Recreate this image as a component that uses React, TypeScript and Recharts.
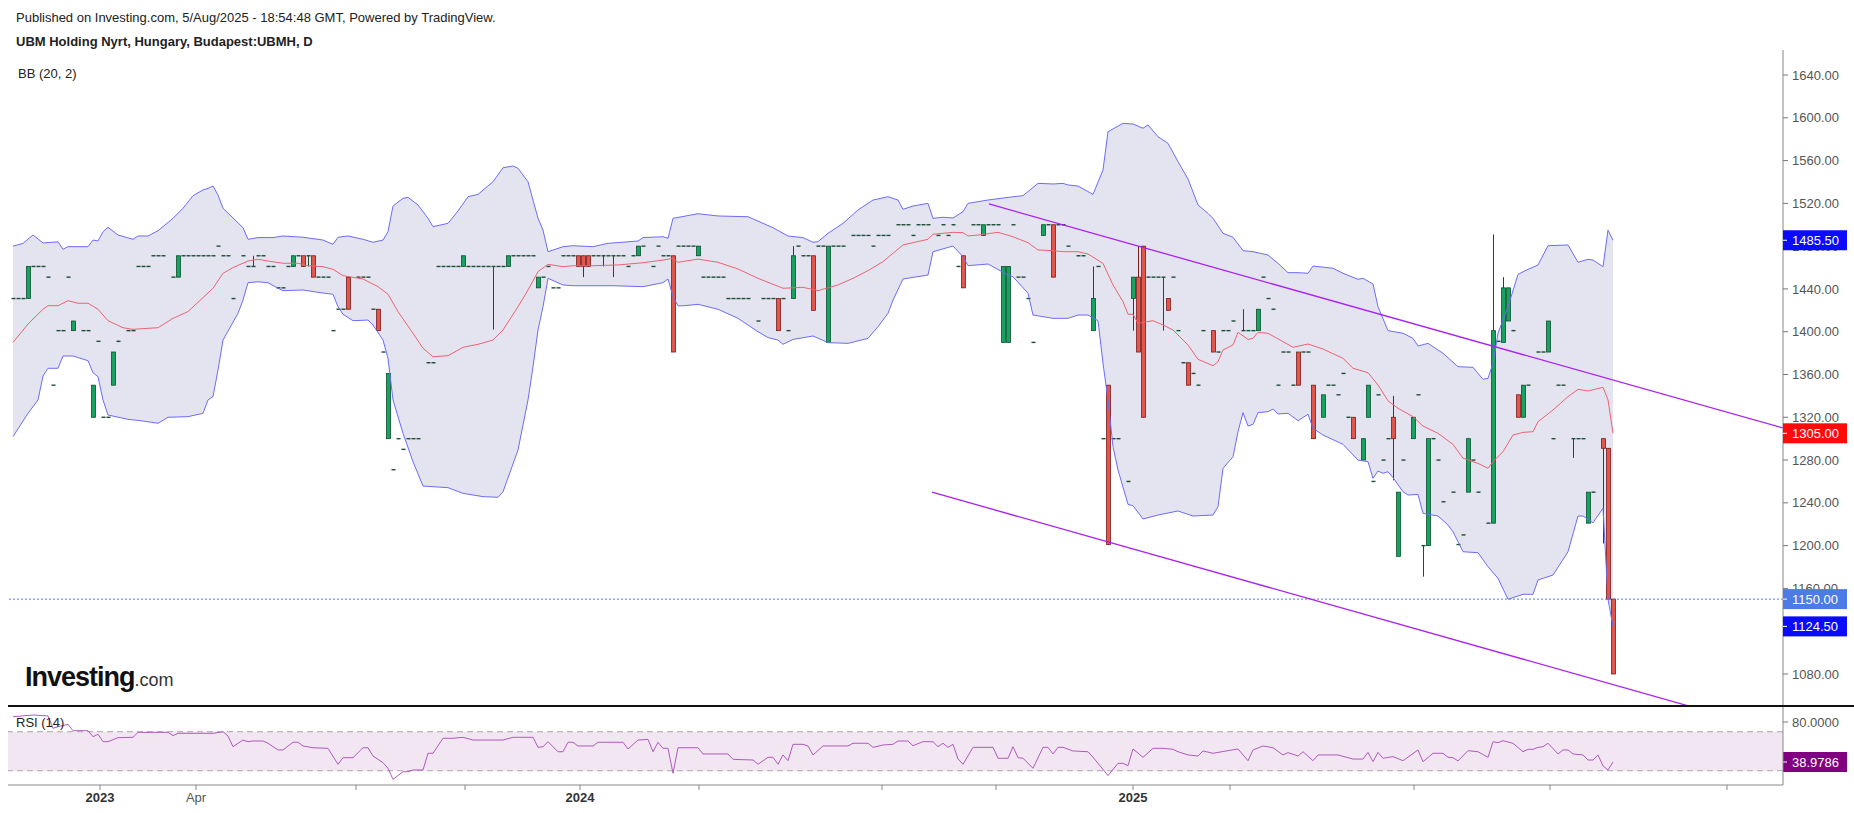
import { ComposedChart, Line, Area, Bar, XAxis, YAxis, ReferenceLine, ReferenceArea } from "recharts"

// bar index t: one slot per traded session shown on the chart
const upperBand: [number, number][] = [
  [1, 1480], [3, 1482.6], [5, 1490.4], [7, 1483], [10, 1484], [11, 1477], [12, 1479.5], [16, 1479.5], [17, 1485.7], [18, 1484.8],
  [19, 1493.5], [20, 1497.6], [22, 1490.4], [25, 1486.4], [26, 1489.5], [28, 1489.5], [30, 1494.4], [33, 1506], [35, 1515.4], [37, 1527.2],
  [39, 1532.5], [40, 1534], [41, 1536.2], [42, 1527.8], [43, 1515.4], [47, 1497.2], [48, 1486.4], [50, 1488], [53, 1488], [55, 1489.5],
  [59, 1488.3], [63, 1485.7], [65, 1481.7], [66, 1488.3], [68, 1489.5], [71, 1486.4], [73, 1483.6], [75, 1485.7], [76, 1493.5], [77, 1517.5],
  [79, 1524.7], [80, 1525.6], [82, 1518.5], [84, 1506], [85, 1498.2], [88, 1501.3], [90, 1512.9], [92, 1526.2], [94, 1528.4], [97, 1540.2],
  [99, 1553.3], [101, 1554.9], [102, 1552.8], [104, 1540.2], [105, 1523.1], [106, 1506], [107, 1495], [108, 1474.8], [111, 1479.5], [113, 1480.4],
  [117, 1479.5], [120, 1482.6], [126, 1484.8], [127, 1488], [131, 1488.8], [132, 1487.3], [133, 1506], [138, 1510.3], [142, 1508.2], [148, 1507.5],
  [153, 1497.2], [156, 1489.5], [159, 1488], [161, 1483.6], [162, 1484.2], [164, 1492], [167, 1501.3], [170, 1513.8], [173, 1523.1], [176, 1526.2],
  [178, 1523.1], [179, 1514.4], [181, 1517.5], [184, 1520], [185, 1506], [187, 1507], [189, 1506.3], [191, 1512.2], [192, 1520], [196, 1523.1],
  [200, 1525.6], [203, 1527.2], [204, 1531], [206, 1538.7], [209, 1538.1], [211, 1538.7], [212, 1537.2], [214, 1536.2], [217, 1528.4], [219, 1551.2],
  [220, 1587], [223, 1594.8], [225, 1594.2], [227, 1590.2], [228, 1593.3], [230, 1582.3], [232, 1576.1], [234, 1559], [236, 1542.8], [238, 1518.5],
  [240, 1510.7], [241, 1506], [243, 1492], [245, 1488.3], [247, 1475.8], [249, 1474.8], [252, 1471.7], [254, 1463.9], [256, 1455.2], [258, 1455.2],
  [260, 1454.6], [261, 1461.4], [265, 1459.3], [267, 1454.6], [270, 1449], [271, 1449.9], [273, 1444.6], [274, 1423.4], [276, 1401], [279, 1398.5],
  [281, 1393.8], [282, 1386.6], [284, 1389.1], [287, 1379.8], [290, 1367.3], [293, 1366.7], [295, 1355.5], [296, 1356.4], [297, 1370.5], [298, 1398.5],
  [300, 1423.4], [302, 1453.6], [304, 1458.3], [306, 1462.4], [308, 1480.4], [312, 1481.1], [314, 1464.9], [316, 1467.7], [317, 1467], [319, 1460.8],
  [320, 1495], [321, 1485.5],
]

const middleBand: [number, number][] = [
  [1, 1390], [4, 1407.2], [7, 1421], [8, 1424.3], [10, 1424.3], [12, 1429], [14, 1426.6], [16, 1426.6], [18, 1421], [20, 1410.3],
  [23, 1403.7], [25, 1402.2], [28, 1403.2], [30, 1403.7], [33, 1412.5], [36, 1418.8], [38, 1427.5], [41, 1440.6], [43, 1454.6], [45, 1459.9],
  [48, 1466.1], [50, 1467.7], [52, 1466.1], [55, 1464], [58, 1464], [60, 1461.7], [63, 1460.8], [65, 1458.3], [67, 1452.4], [71, 1449.3],
  [74, 1442.1], [76, 1435], [78, 1418.8], [81, 1398.5], [83, 1384.5], [85, 1376.6], [88, 1377.6], [91, 1385.4], [94, 1388.2], [97, 1392.2],
  [99, 1401.6], [102, 1423.4], [104, 1439], [106, 1456.1], [108, 1463], [111, 1460.8], [113, 1461.7], [117, 1461.7], [122, 1462.4], [127, 1464.5],
  [131, 1467], [133, 1468.6], [134, 1464.9], [138, 1467.9], [142, 1464.9], [146, 1458.6], [150, 1449.9], [155, 1440.6], [159, 1441.5], [162, 1438.4],
  [166, 1443.7], [169, 1449.9], [172, 1457.1], [175, 1465.5], [179, 1481.1], [184, 1486.4], [185, 1491.1], [189, 1492.9], [191, 1492.6], [192, 1489.5],
  [194, 1490.4], [198, 1492.9], [201, 1488.8], [204, 1483.2], [206, 1476.4], [209, 1475.8], [211, 1474.8], [214, 1474.8], [216, 1472.6], [219, 1463.9],
  [221, 1443.7], [223, 1428.1], [224, 1416.3], [225, 1416.3], [226, 1407.9], [229, 1410.3], [231, 1406.3], [233, 1401.6], [236, 1387.6], [238, 1374.2],
  [241, 1368.2], [242, 1372], [243, 1382.9], [245, 1387.6], [246, 1399.4], [248, 1392.8], [249, 1393.8], [250, 1399.4], [252, 1398.5], [255, 1390.7],
  [257, 1385.4], [260, 1388.5], [263, 1383.8], [267, 1375.1], [269, 1365.8], [272, 1361.7], [274, 1350.2], [276, 1335.4], [278, 1328.4], [281, 1320.6],
  [283, 1311.8], [286, 1305], [289, 1294.7], [291, 1281.7], [294, 1276.9], [296, 1272.3], [297, 1278.5], [299, 1287.8], [301, 1303.4], [303, 1305.9],
  [305, 1306.5], [306, 1315.9], [309, 1326.8], [312, 1339.3], [314, 1346.1], [316, 1344.6], [319, 1348], [320, 1336.2], [321, 1305],
]

const lowerBand: [number, number][] = [
  [1, 1301.9], [4, 1323.7], [6, 1336.2], [7, 1358.6], [8, 1365.8], [10, 1365.8], [11, 1377.3], [13, 1377.3], [16, 1372.9], [17, 1361.7],
  [18, 1357.9], [19, 1336.2], [20, 1322.1], [24, 1318.1], [27, 1316.5], [30, 1314.4], [32, 1320], [36, 1320.6], [39, 1323.7], [40, 1336.2],
  [41, 1339.3], [42, 1364.2], [43, 1392.2], [46, 1417.2], [47, 1429.6], [48, 1445.8], [50, 1446.7], [52, 1445.8], [54, 1440.6], [55, 1438.4],
  [59, 1439], [62, 1436.8], [65, 1435], [66, 1423.4], [67, 1416.3], [69, 1410.3], [72, 1410.9], [73, 1406.3], [75, 1392.2], [76, 1375.1],
  [77, 1336.2], [79, 1305], [81, 1278.5], [83, 1255.7], [88, 1254.2], [91, 1248.9], [95, 1245.8], [98, 1245.2], [99, 1250.4], [102, 1289.4],
  [104, 1336.2], [105, 1367.3], [106, 1401.6], [107, 1423.4], [108, 1449.9], [111, 1443.7], [113, 1443], [121, 1443], [127, 1442.1], [131, 1445.8],
  [132, 1449.3], [133, 1432.8], [134, 1424.2], [135, 1424.2], [138, 1425.6], [142, 1421], [146, 1412.5], [150, 1400], [152, 1394.5], [154, 1392.2],
  [155, 1388.2], [157, 1392.8], [161, 1396], [164, 1389.8], [168, 1389.1], [172, 1393.8], [174, 1404.7], [176, 1417.2], [177, 1429.6], [179, 1449.3],
  [184, 1453], [185, 1474.8], [189, 1480.1], [191, 1470.1], [192, 1461.7], [196, 1463.3], [200, 1453], [201, 1451.4], [204, 1435.9], [205, 1415.6],
  [209, 1412.5], [212, 1412.5], [214, 1415.6], [216, 1415.6], [218, 1410.3], [219, 1370.5], [220, 1336.2], [221, 1292.5], [222, 1270.7], [224, 1238.6],
  [225, 1237.3], [227, 1224.9], [230, 1228.6], [234, 1232.4], [237, 1227.7], [241, 1228.6], [242, 1236.4], [243, 1272.3], [245, 1283.1], [246, 1306.5],
  [247, 1324.3], [248, 1311.8], [249, 1313.4], [250, 1324.3], [252, 1325.3], [253, 1327.7], [254, 1323.1], [256, 1323.7], [258, 1316.8], [260, 1322.8],
  [261, 1309.7], [263, 1303.4], [267, 1294.7], [270, 1280], [272, 1278.5], [273, 1262.9], [274, 1269.8], [275, 1267.6], [276, 1269.1], [277, 1263.6],
  [279, 1250.4], [280, 1247.3], [282, 1247.9], [283, 1230.2], [286, 1227.7], [288, 1219.3], [289, 1213], [291, 1194.3], [294, 1193.4], [296, 1180.3],
  [298, 1169.4], [300, 1149.9], [303, 1154.5], [305, 1154.5], [306, 1167.9], [309, 1172.5], [312, 1194.3], [314, 1227.7], [315, 1227.7], [317, 1221.4],
  [319, 1234.9], [320, 1149.9], [321, 1124.5],
]

const rsiValues: [number, number][] = [
  [1, 85.4], [5, 87.2], [8, 86.2], [9, 73.5], [10, 75.2], [12, 77.6], [13, 71.1], [16, 71.1], [17, 64.9], [18, 67.4],
  [19, 59.8], [20, 59.8], [22, 63.9], [25, 64.3], [26, 69.4], [32, 69.4], [33, 66], [34, 68.4], [41, 68.4], [43, 70],
  [44, 65.6], [45, 54.7], [47, 61.5], [48, 59.8], [49, 60.5], [51, 60.5], [52, 58.2], [54, 51.3], [55, 51.3], [57, 59.2],
  [58, 59.2], [59, 55.4], [61, 53.6], [64, 53], [66, 36.6], [67, 43.4], [69, 43.4], [71, 53.6], [72, 53.6], [73, 45.1],
  [75, 38.3], [76, 32.5], [77, 21.2], [79, 29], [80, 29], [81, 30.8], [83, 30.8], [84, 47.9], [85, 47.9], [87, 63.3],
  [89, 63.3], [91, 64.3], [93, 61.5], [99, 61.5], [101, 64.3], [105, 64.3], [106, 54], [107, 54.7], [108, 59.8], [110, 49.5],
  [111, 49.5], [112, 59.2], [113, 59.2], [114, 55.4], [117, 55.4], [118, 59.2], [123, 59.2], [124, 52.3], [126, 61.5], [128, 62.2],
  [129, 49.5], [130, 59.2], [131, 53], [132, 53], [133, 27.4], [134, 53.6], [138, 53.6], [139, 47.2], [144, 47.2], [145, 41.7],
  [149, 41], [150, 36.6], [152, 43.8], [153, 43.8], [154, 36.6], [155, 46.2], [156, 40.3], [157, 57.1], [159, 57.1], [160, 55.4],
  [161, 46.2], [163, 55.4], [168, 55.4], [169, 58.2], [172, 58.2], [173, 54], [175, 56.4], [177, 57.1], [178, 60.5], [180, 60.5],
  [181, 55.7], [183, 59.8], [185, 59.8], [186, 54.7], [187, 58.2], [188, 54], [189, 57.1], [190, 42], [191, 36.6], [193, 54],
  [197, 54], [198, 42.8], [200, 42.8], [201, 54.7], [202, 43.4], [203, 42.8], [205, 32.5], [207, 54], [208, 54], [209, 47.2],
  [210, 54], [211, 54], [213, 50.3], [216, 49.5], [217, 43.8], [219, 31.5], [220, 25], [222, 37.6], [223, 37.6], [224, 35.2],
  [225, 52.3], [227, 43.8], [229, 53], [231, 53], [233, 52], [234, 49.5], [236, 46.2], [238, 45.1], [239, 50.3], [241, 47.9],
  [244, 50.6], [246, 52.3], [248, 40.3], [249, 51.3], [251, 55.4], [253, 53.6], [255, 46.2], [256, 48.6], [258, 45.1], [259, 49.5],
  [261, 40.3], [262, 46.2], [266, 46.2], [269, 42], [271, 42], [272, 48.9], [273, 39.3], [274, 48.9], [275, 42.8], [277, 44.5],
  [279, 40.3], [282, 51.3], [283, 39.3], [285, 47.9], [287, 47.9], [288, 43.8], [289, 43.4], [290, 40], [292, 50.6], [294, 49.5],
  [296, 43.8], [297, 59.8], [298, 58.8], [299, 60.8], [301, 58.2], [303, 49.5], [304, 52], [305, 52], [306, 54], [307, 54.7],
  [308, 58.2], [310, 47.2], [311, 51.3], [312, 51.3], [313, 47.2], [315, 46.2], [316, 41], [317, 41], [318, 46.2], [319, 34.9],
  [320, 30.8], [321, 38.9786],
]

// [t, open, high, low, close]
const candles: [number, number, number, number, number][] = [
  [4, 1431, 1461, 1431, 1461], [13, 1401, 1410, 1401, 1410], [17, 1320, 1350, 1320, 1350], [21, 1350, 1381, 1350, 1381],
  [34, 1451, 1471, 1451, 1471], [49, 1461, 1471, 1461, 1461], [57, 1461, 1471, 1461, 1471], [59, 1471, 1471, 1461, 1461],
  [60, 1471, 1471, 1461, 1471], [61, 1471, 1471, 1451, 1451], [68, 1451, 1451, 1421, 1421], [74, 1421, 1421, 1401, 1401],
  [76, 1300, 1361, 1300, 1361], [91, 1461, 1471, 1461, 1471], [97, 1461, 1461, 1402, 1461], [100, 1461, 1471, 1461, 1471],
  [106, 1441, 1451, 1441, 1451], [114, 1471, 1471, 1461, 1461], [115, 1471, 1471, 1451, 1461], [116, 1471, 1471, 1461, 1461],
  [119, 1471, 1471, 1461, 1471], [121, 1471, 1471, 1451, 1471], [126, 1471, 1480, 1471, 1480], [133, 1471, 1471, 1381, 1381],
  [138, 1471, 1480, 1471, 1480], [154, 1431, 1431, 1401, 1401], [157, 1431, 1480, 1431, 1471], [161, 1471, 1471, 1420, 1420],
  [164, 1390, 1480, 1390, 1480], [191, 1471, 1471, 1441, 1441], [195, 1490, 1500, 1490, 1500], [199, 1390, 1461, 1390, 1461],
  [200, 1390, 1461, 1390, 1461], [207, 1490, 1500, 1490, 1500], [209, 1500, 1500, 1451, 1451], [217, 1401, 1461, 1401, 1431],
  [220, 1350, 1350, 1201, 1201], [225, 1431, 1451, 1401, 1451], [226, 1451, 1480, 1381, 1381], [227, 1480, 1480, 1320, 1320],
  [231, 1451, 1451, 1401, 1451], [232, 1431, 1431, 1420, 1420], [236, 1371, 1371, 1350, 1350], [241, 1401, 1401, 1381, 1381],
  [247, 1401, 1421, 1401, 1401], [250, 1401, 1421, 1401, 1421], [258, 1381, 1381, 1350, 1350], [261, 1350, 1350, 1300, 1300],
  [263, 1320, 1341, 1320, 1341], [269, 1320, 1320, 1300, 1300], [271, 1280, 1300, 1280, 1300], [272, 1320, 1350, 1320, 1350],
  [277, 1320, 1340, 1261, 1300], [278, 1190, 1250, 1190, 1250], [281, 1300, 1320, 1300, 1320], [283, 1200, 1200, 1171, 1200],
  [284, 1200, 1300, 1200, 1300], [292, 1250, 1300, 1250, 1300], [297, 1221, 1491, 1221, 1401], [299, 1390, 1451, 1390, 1441],
  [300, 1410, 1441, 1410, 1441], [302, 1341, 1341, 1320, 1320], [303, 1320, 1350, 1320, 1350], [308, 1381, 1410, 1381, 1410],
  [313, 1300, 1300, 1282, 1300], [316, 1221, 1250, 1221, 1250], [319, 1300, 1300, 1202, 1291], [320, 1291, 1291, 1150, 1150],
  [321, 1150, 1150, 1080, 1080],
]

// sessions where open = high = low = close
const flatBars: [number, number][] = [
  [1, 1431], [2, 1431], [3, 1431], [5, 1461], [6, 1461], [7, 1461], [8, 1451], [9, 1350], [10, 1401], [11, 1401],
  [12, 1451], [15, 1401], [16, 1401], [18, 1391], [19, 1320], [20, 1320], [22, 1391], [24, 1401], [25, 1401], [26, 1461],
  [27, 1461], [28, 1461], [29, 1471], [30, 1471], [31, 1471], [33, 1451], [35, 1471], [36, 1471], [37, 1471], [38, 1471],
  [39, 1471], [40, 1471], [41, 1471], [42, 1480], [43, 1471], [44, 1471], [45, 1431], [47, 1471], [48, 1461], [50, 1471],
  [51, 1471], [52, 1461], [53, 1461], [54, 1441], [55, 1441], [56, 1461], [58, 1471], [62, 1451], [63, 1451], [64, 1451],
  [65, 1401], [66, 1421], [67, 1421], [70, 1451], [71, 1451], [72, 1451], [73, 1421], [75, 1381], [77, 1271], [78, 1300],
  [79, 1290], [80, 1300], [81, 1300], [82, 1300], [84, 1371], [85, 1371], [86, 1461], [87, 1461], [88, 1461], [89, 1461],
  [90, 1461], [92, 1461], [93, 1461], [94, 1461], [95, 1461], [96, 1461], [98, 1461], [99, 1461], [101, 1471], [102, 1471],
  [103, 1471], [104, 1471], [105, 1471], [107, 1451], [108, 1461], [109, 1441], [110, 1441], [111, 1471], [112, 1471], [113, 1471],
  [117, 1471], [118, 1471], [120, 1471], [122, 1471], [123, 1471], [124, 1461], [125, 1471], [127, 1480], [129, 1461], [130, 1480],
  [131, 1471], [132, 1471], [134, 1480], [135, 1480], [136, 1480], [137, 1480], [139, 1451], [140, 1451], [141, 1451], [142, 1451],
  [143, 1451], [144, 1431], [145, 1431], [146, 1431], [147, 1431], [148, 1431], [150, 1410], [151, 1431], [152, 1431], [153, 1431],
  [155, 1431], [156, 1401], [158, 1480], [159, 1471], [160, 1471], [162, 1480], [163, 1480], [165, 1480], [166, 1480], [167, 1480],
  [169, 1490], [170, 1490], [171, 1490], [172, 1490], [173, 1480], [174, 1490], [175, 1490], [176, 1490], [178, 1500], [179, 1500],
  [180, 1500], [181, 1490], [182, 1500], [183, 1500], [184, 1500], [186, 1490], [187, 1500], [188, 1490], [189, 1500], [190, 1461],
  [193, 1500], [194, 1500], [196, 1500], [197, 1500], [198, 1500], [201, 1500], [202, 1451], [203, 1451], [204, 1431], [205, 1390],
  [208, 1500], [210, 1500], [211, 1500], [212, 1480], [214, 1471], [215, 1471], [218, 1461], [219, 1300], [221, 1300], [222, 1300],
  [224, 1260], [228, 1451], [229, 1451], [230, 1451], [233, 1451], [234, 1401], [235, 1371], [237, 1361], [238, 1350], [239, 1401],
  [242, 1381], [243, 1401], [244, 1401], [245, 1410], [248, 1401], [249, 1401], [251, 1451], [252, 1431], [253, 1421], [254, 1350],
  [255, 1381], [256, 1381], [257, 1350], [259, 1381], [260, 1381], [264, 1350], [265, 1350], [266, 1341], [267, 1361], [268, 1320],
  [273, 1260], [274, 1341], [275, 1280], [276, 1300], [279, 1280], [282, 1341], [285, 1300], [286, 1280], [287, 1241], [289, 1250],
  [290, 1201], [291, 1210], [293, 1280], [294, 1250], [296, 1221], [298, 1391], [301, 1401], [304, 1350], [306, 1381], [307, 1381],
  [309, 1300], [310, 1350], [311, 1350], [314, 1300], [315, 1300], [317, 1250],
]

const upperTrend: [number, number][] = [[196.2, 1519.4], [355, 1310]]
const lowerTrend: [number, number][] = [[184.8, 1250], [336.2, 1050]]

const priceTicks = [1080, 1120, 1160, 1200, 1240, 1280, 1320, 1360, 1400, 1440, 1480, 1520, 1560, 1600, 1640]
const timeTicks = [18.4, 37.6, 69.6, 91.4, 114.4, 138.2, 174.8, 197.6, 225, 244.4, 281.2, 308.4, 343.8]
const timeLabels = ["2023", "Apr", "", "", "2024", "", "", "", "2025", "", "", "", ""]

const lastPrice = 1150
const lastUpper = 1485.5
const lastMiddle = 1305
const lastLower = 1124.5
const lastRsi = 38.9786

const X_DOMAIN: [number, number] = [0, 355]
const PRICE_DOMAIN: [number, number] = [1050.07, 1663.37]
const RSI_DOMAIN: [number, number] = [15.38, 96.41]

const UP = "#17a25f"
const UP_EDGE = "#0c5230"
const DOWN = "#e2564b"
const DOWN_EDGE = "#7a1c1c"
const FLAT = "#1d4d33"

const toRows = (pts: [number, number][]) => pts.map(([t, v]) => ({ t, v }))

const barRows = [
  ...candles.map(([t, o, h, l, c]) => ({ t, o, h, l, c })),
  ...flatBars.map(([t, p]) => ({ t, o: p, h: p, l: p, c: p })),
].sort((a, b) => a.t - b.t)

function CandleShape(props: any) {
  const { x, y, width, height, payload } = props
  if (x == null || y == null || !payload) return null
  const cx = Math.round(x + width / 2) + 0.5
  const { o, h, l, c } = payload
  if (h === l) {
    return <line x1={cx - 2} x2={cx + 2} y1={y} y2={y} stroke={FLAT} strokeWidth={1.4} />
  }
  const k = height / (h - l)
  const yTop = y + (h - Math.max(o, c)) * k
  const yBot = y + (h - Math.min(o, c)) * k
  if (o === c) {
    return (
      <g>
        <line x1={cx} x2={cx} y1={y} y2={y + height} stroke={FLAT} strokeWidth={1} />
        <line x1={cx - 2} x2={cx + 2} y1={yTop} y2={yTop} stroke={FLAT} strokeWidth={1.4} />
      </g>
    )
  }
  const up = c > o
  const edge = up ? UP_EDGE : DOWN_EDGE
  return (
    <g>
      <line x1={cx} x2={cx} y1={y} y2={y + height} stroke={edge} strokeWidth={1} />
      <rect x={cx - 2} y={yTop} width={4} height={Math.max(1, yBot - yTop)} fill={up ? UP : DOWN} stroke={edge} strokeWidth={0.8} />
    </g>
  )
}

function PriceTag(props: any) {
  const { viewBox, text, bg } = props
  if (!viewBox) return null
  const x = viewBox.x + viewBox.width
  const y = viewBox.y
  return (
    <g>
      <rect x={x} y={y - 10} width={64} height={20} fill={bg} />
      <line x1={x} x2={x + 4} y1={y} y2={y} stroke="#ffffff" />
      <text x={x + 9} y={y} dy="0.35em" fill="#ffffff" fontSize={13}>{text}</text>
    </g>
  )
}

function TimeTick(props: any) {
  const { x, y, payload } = props
  const label = timeLabels[timeTicks.indexOf(payload.value)]
  if (!label) return null
  const bold = label !== "Apr"
  return (
    <text x={x} y={y} dy={10} textAnchor="middle" fontSize={13} fontWeight={bold ? 700 : 400} fill={bold ? "#333" : "#555"}>
      {label}
    </text>
  )
}

export default function App() {
  return (
    <div style={{ position: "absolute", left: 0, top: 0, width: 1854, height: 813, background: "#fff", overflow: "hidden", fontFamily: "'Liberation Sans', Arial, sans-serif" }}>
      <div style={{ position: "absolute", left: 0, top: 50 }}>
        <ComposedChart width={1854} height={656} data={barRows} margin={{ top: 0, right: 0, bottom: 0, left: 8 }}>
          <XAxis dataKey="t" type="number" domain={X_DOMAIN} allowDataOverflow hide />
          <YAxis
            orientation="right"
            width={71}
            domain={PRICE_DOMAIN}
            allowDataOverflow
            ticks={priceTicks}
            interval={0}
            tickFormatter={(v: number) => v.toFixed(2)}
            tick={{ fill: "#555", fontSize: 13 }}
            tickSize={5}
            tickMargin={4}
            axisLine={{ stroke: "#888" }}
            tickLine={{ stroke: "#777" }}
          />
          <Area data={toRows(upperBand)} dataKey="v" baseValue={PRICE_DOMAIN[0]} type="linear" stroke="none" fill="#e4e4f1" fillOpacity={1} isAnimationActive={false} />
          <Area data={toRows(lowerBand)} dataKey="v" baseValue={PRICE_DOMAIN[0]} type="linear" stroke="none" fill="#ffffff" fillOpacity={1} isAnimationActive={false} />
          <ReferenceLine y={lastPrice} stroke="#4a7ce8" strokeDasharray="2 2" />
          <Line data={toRows(upperBand)} dataKey="v" type="linear" stroke="#6d6cf6" strokeWidth={1} dot={false} isAnimationActive={false} />
          <Line data={toRows(lowerBand)} dataKey="v" type="linear" stroke="#6d6cf6" strokeWidth={1} dot={false} isAnimationActive={false} />
          <Line data={toRows(middleBand)} dataKey="v" type="linear" stroke="#ee6270" strokeWidth={1} dot={false} isAnimationActive={false} />
          <Bar dataKey={(d: any) => [d.l, d.h]} barSize={4} shape={<CandleShape />} isAnimationActive={false} />
          <Line data={toRows(upperTrend)} dataKey="v" type="linear" stroke="#a91ff7" strokeWidth={1.3} dot={false} isAnimationActive={false} />
          <Line data={toRows(lowerTrend)} dataKey="v" type="linear" stroke="#a91ff7" strokeWidth={1.3} dot={false} isAnimationActive={false} />
        </ComposedChart>
      </div>

      {/* last-value tags sit above the axis labels, as on the price scale */}
      <div style={{ position: "absolute", left: 0, top: 50 }}>
        <ComposedChart width={1854} height={656} data={barRows} margin={{ top: 0, right: 71, bottom: 0, left: 8 }}>
          <XAxis dataKey="t" type="number" domain={X_DOMAIN} allowDataOverflow hide />
          <YAxis domain={PRICE_DOMAIN} allowDataOverflow hide />
          <ReferenceLine y={lastUpper} stroke="transparent" label={<PriceTag text={lastUpper.toFixed(2)} bg="#0a0aff" />} />
          <ReferenceLine y={lastMiddle} stroke="transparent" label={<PriceTag text={lastMiddle.toFixed(2)} bg="#ff0a0a" />} />
          <ReferenceLine y={lastPrice} stroke="transparent" label={<PriceTag text={lastPrice.toFixed(2)} bg="#4c7be6" />} />
          <ReferenceLine y={lastLower} stroke="transparent" label={<PriceTag text={lastLower.toFixed(2)} bg="#0a0aff" />} />
        </ComposedChart>
      </div>

      <div style={{ position: "absolute", left: 0, top: 706 }}>
        <ComposedChart width={1854} height={107} data={toRows(rsiValues)} margin={{ top: 0, right: 0, bottom: 0, left: 8 }}>
          <XAxis
            dataKey="t"
            type="number"
            domain={X_DOMAIN}
            allowDataOverflow
            ticks={timeTicks}
            interval={0}
            height={28}
            tickSize={5}
            tickMargin={2}
            tick={<TimeTick />}
            axisLine={{ stroke: "#888" }}
            tickLine={{ stroke: "#888" }}
          />
          <YAxis
            orientation="right"
            width={71}
            domain={RSI_DOMAIN}
            allowDataOverflow
            ticks={[80]}
            interval={0}
            tickFormatter={(v: number) => v.toFixed(4)}
            tick={{ fill: "#555", fontSize: 13 }}
            tickSize={5}
            tickMargin={4}
            axisLine={{ stroke: "#888" }}
            tickLine={{ stroke: "#777" }}
          />
          <ReferenceArea y1={30} y2={70} fill="#f2e6f2" fillOpacity={1} stroke="none" />
          <ReferenceLine y={70} stroke="#a8a8a8" strokeDasharray="6 4" />
          <ReferenceLine y={30} stroke="#a8a8a8" strokeDasharray="6 4" />
          <Line dataKey="v" type="linear" stroke="#b05abd" strokeWidth={1} dot={false} isAnimationActive={false} />
          <ReferenceLine y={lastRsi} stroke="transparent" label={<PriceTag text={lastRsi.toFixed(4)} bg="#800080" />} />
        </ComposedChart>
      </div>

      <div style={{ position: "absolute", left: 8, top: 705, width: 1846, height: 2, background: "#111" }} />

      <div style={{ position: "absolute", left: 16, top: 10, fontSize: 13, lineHeight: "15px", color: "#222" }}>
        Published on Investing.com, 5/Aug/2025 - 18:54:48 GMT, Powered by TradingView.
      </div>
      <div style={{ position: "absolute", left: 16, top: 34, fontSize: 13, lineHeight: "15px", fontWeight: 700, color: "#222" }}>
        UBM Holding Nyrt, Hungary, Budapest:UBMH, D
      </div>
      <div style={{ position: "absolute", left: 18, top: 66, fontSize: 13, lineHeight: "15px", color: "#222" }}>BB (20, 2)</div>
      <div style={{ position: "absolute", left: 16, top: 715, fontSize: 13, lineHeight: "15px", color: "#222" }}>RSI (14)</div>
      <div style={{ position: "absolute", left: 25, top: 664, lineHeight: "27px", whiteSpace: "nowrap", color: "#111" }}>
        <span style={{ fontSize: 27, fontWeight: 700, letterSpacing: -1 }}>Investing</span>
        <span style={{ fontSize: 18, color: "#333" }}>.com</span>
      </div>
    </div>
  )
}
